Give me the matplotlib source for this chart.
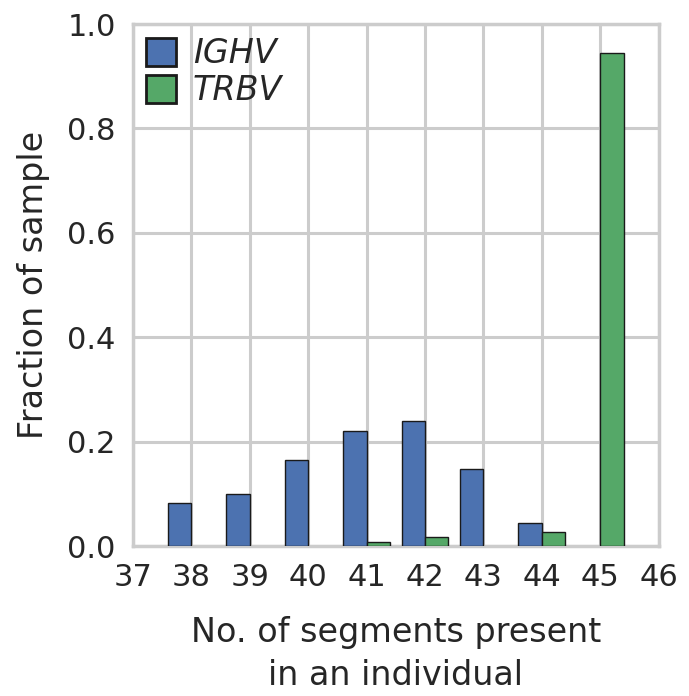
import numpy as np
import matplotlib
matplotlib.use("Agg")
import matplotlib.pyplot as plt
import seaborn as sns

# Values
segments = [38, 39, 40, 41, 42, 43, 44, 45]
ighv = [0.082, 0.100, 0.165, 0.221, 0.239, 0.147, 0.045, 0.0]
trbv = [0.0, 0.0, 0.0, 0.008, 0.017, 0.0, 0.026, 0.944]
xticks = list(range(37, 47))
yticks = [0.0, 0.2, 0.4, 0.6, 0.8, 1.0]

sns.set_style("whitegrid")
plt.rcParams['font.family'] = ['DejaVu Sans']

fig = plt.figure(figsize=(6.89, 6.96), dpi=100)
ax = fig.add_axes([0.193, 0.2155, 0.763, 0.75])

w = 0.4
x = np.array(segments)
ighv = np.array(ighv)
trbv = np.array(trbv)
# skip the empty bars so no flat outline shows on the baseline
m1 = ighv > 0
m2 = trbv > 0
ax.bar(x[m1] - w, ighv[m1], width=w, align='edge', color='#4c72b0',
       edgecolor='#1a1a1a', linewidth=1, label='IGHV', zorder=3)
ax.bar(x[m2], trbv[m2], width=w, align='edge', color='#55a868',
       edgecolor='#1a1a1a', linewidth=1, label='TRBV', zorder=3)

ax.set_xlim(37, 46)
ax.set_ylim(0, 1.0)
ax.set_xticks(xticks)
ax.set_yticks(yticks)
ax.set_yticklabels([f"{v:.1f}" for v in yticks])
ax.tick_params(labelsize=22, colors='#262626', pad=9)
for s in ax.spines.values():
    s.set_linewidth(2.5)
    s.set_color('#cccccc')
ax.grid(True, linewidth=2.2, color='#cccccc')
ax.set_axisbelow(True)

ax.set_xlabel("No. of segments present\nin an individual", fontsize=24,
              labelpad=17, color='#262626', linespacing=1.38)
ax.set_ylabel("Fraction of sample", fontsize=24, labelpad=12, color='#262626')

leg = ax.legend(loc='upper left', fontsize=24, frameon=False,
                handlelength=0.9, handleheight=0.9, borderaxespad=0.25,
                borderpad=0.15, labelspacing=0.12, handletextpad=0.5)
for t in leg.get_texts():
    t.set_style('italic')
for p in leg.get_patches():
    p.set_linewidth(2)

fig.savefig("out.png", dpi=100)
